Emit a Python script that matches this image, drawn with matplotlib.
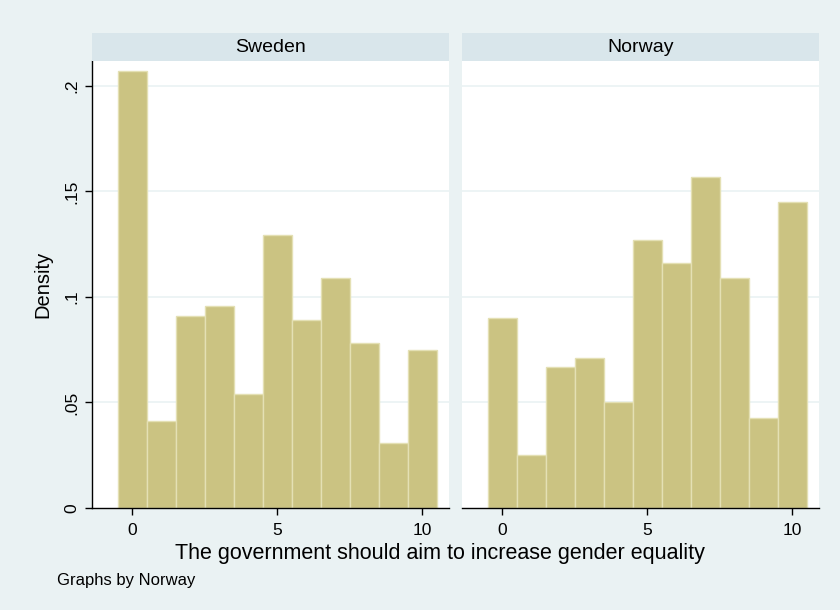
import matplotlib.pyplot as plt
import numpy as np

plt.rcParams['font.family'] = ['Liberation Sans', 'DejaVu Sans']

# histogram densities, one bar per score 0..10
scores = np.arange(0, 11)
sweden = [0.207, 0.041, 0.091, 0.0955, 0.054, 0.1295, 0.089, 0.109, 0.078, 0.031, 0.075]
norway = [0.090, 0.025, 0.067, 0.071, 0.050, 0.127, 0.116, 0.157, 0.109, 0.0425, 0.145]
panels = ['Sweden', 'Norway']
yticks = [0, 0.05, 0.1, 0.15, 0.2]
ylabels = ['0', '.05', '.1', '.15', '.2']

bg = '#EAF2F3'
bar_col = '#CBC382'
head_col = '#D9E6EB'

fig = plt.figure(figsize=(8.4, 6.1), dpi=100, facecolor=bg)

lefts = [92 / 840, 462 / 840]
width = 357 / 840
bottom = 1 - 508 / 610
height = 447 / 610
head_h = 28 / 610

for i, (name, vals) in enumerate(zip(panels, [sweden, norway])):
    ax = fig.add_axes([lefts[i], bottom, width, height])
    ax.set_facecolor('white')
    ax.bar(scores, vals, width=1.0, color=bar_col, edgecolor='#E4E0B4', linewidth=1, zorder=2)
    ax.set_xlim(-1.38, 10.93)
    ax.set_ylim(0, 0.2118)
    ax.set_yticks(yticks)
    for y in yticks[1:]:
        ax.axhline(y, color=bg, linewidth=1.2, zorder=1)
    ax.set_xticks([0, 5, 10])
    ax.tick_params(axis='x', length=5, width=1, labelsize=12.5, pad=6)
    for s in ['top', 'right']:
        ax.spines[s].set_visible(False)
    ax.spines['bottom'].set_linewidth(1)
    if i == 0:
        ax.set_yticklabels(ylabels, rotation=90, va='center', fontsize=12.5)
        ax.tick_params(axis='y', length=5, width=1, pad=4)
        ax.spines['left'].set_linewidth(1)
        ax.set_ylabel('Density', fontsize=14.5, labelpad=9)
    else:
        ax.spines['left'].set_visible(False)
        ax.tick_params(axis='y', left=False, labelleft=False)

    # panel header strip
    hx = fig.add_axes([lefts[i], bottom + height, width, head_h])
    hx.set_facecolor(head_col)
    hx.set_xticks([])
    hx.set_yticks([])
    for s in hx.spines.values():
        s.set_visible(False)
    hx.text(0.5, 0.5, name, ha='center', va='center', fontsize=14, transform=hx.transAxes)

fig.text(440 / 840, 1 - 553 / 610, 'The government should aim to increase gender equality',
         ha='center', va='center', fontsize=15.5)
fig.text(57 / 840, 1 - 580 / 610, 'Graphs by Norway', ha='left', va='center', fontsize=12)

fig.savefig('out.png', dpi=100, facecolor=bg)
